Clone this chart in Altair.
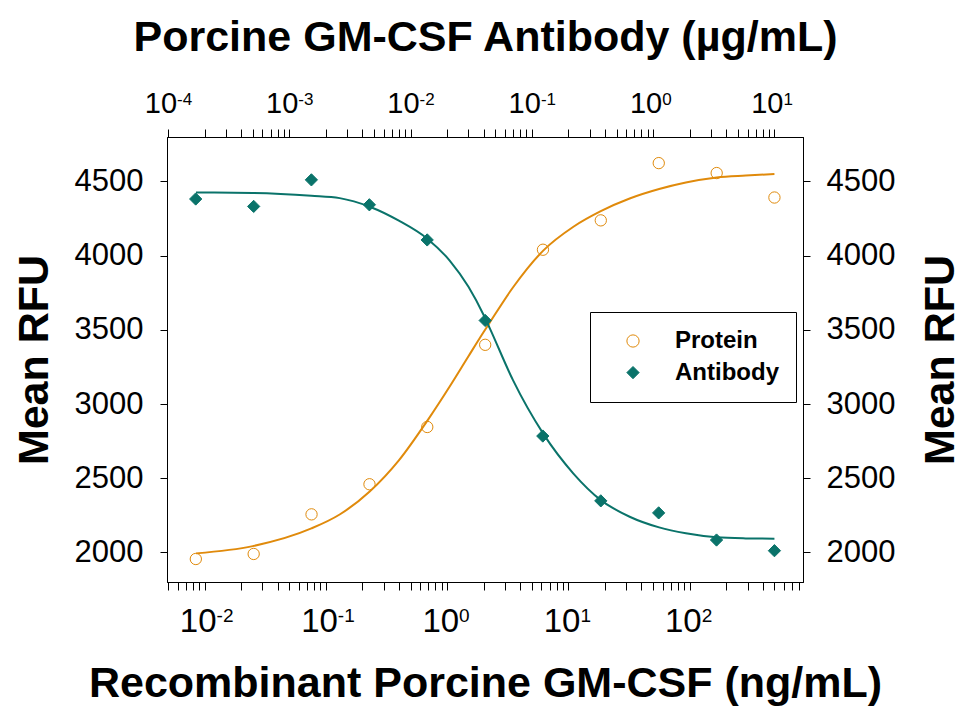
import altair as alt
import pandas as pd

# ---------------- data ----------------
protein_conc = [0.00847, 0.0254, 0.0762, 0.229, 0.686, 2.06, 6.17, 18.5, 55.6, 167, 500]  # ng/mL
protein_rfu = [1955, 1989, 2256, 2459, 2845, 3399, 4040, 4238, 4624, 4557, 4392]

antibody_conc = [0.000169, 0.000508, 0.00152, 0.00457, 0.0137, 0.0412, 0.123, 0.370, 1.11, 3.33, 10]  # ug/mL
antibody_rfu = [4382, 4332, 4511, 4343, 4106, 3563, 2784, 2347, 2266, 2083, 2011]

protein_fit_conc = [0.0085, 0.025, 0.076, 0.13, 0.23, 0.40, 0.69, 1.05, 1.5, 2.0, 2.25,
                    3.5, 6.2, 11, 18.5, 32, 56, 93, 167, 290, 500]
protein_fit_rfu = [1993, 2042, 2161, 2255, 2410, 2620, 2890, 3118, 3322, 3485, 3550,
                   3787, 4034, 4195, 4300, 4385, 4449, 4493, 4527, 4540, 4550]

antibody_fit_conc = [0.00017, 0.0005, 0.00152, 0.0026, 0.0046, 0.008, 0.0138, 0.021, 0.03, 0.04, 0.045,
                     0.07, 0.124, 0.22, 0.37, 0.64, 1.12, 1.86, 3.34, 5.8, 10]
antibody_fit_rfu = [4426, 4423, 4404, 4388, 4330, 4236, 4113, 3967, 3790, 3600, 3510,
                    3159, 2800, 2531, 2352, 2240, 2168, 2128, 2101, 2094, 2092]

bottom_major = [0.01, 0.1, 1, 10, 100]
bottom_exp = ["-2", "-1", "0", "1", "2"]
top_major = [0.0001, 0.001, 0.01, 0.1, 1, 10]
top_exp = ["-4", "-3", "-2", "-1", "0", "1"]
y_ticks = [2000, 2500, 3000, 3500, 4000, 4500]

# ---------------- styling ----------------
FONT = "Liberation Sans, Arial, Helvetica, sans-serif"
ORANGE = "#E08A0B"
TEAL = "#0A736A"
W, H = 636, 445
x_dom_ng = [0.0049, 860]
x_dom_ug = [0.000098, 17.2]
y_dom = [1800, 4800]


def log_ticks(lo, hi, d0, d1):
    vals = []
    for d in range(d0, d1 + 1):
        for m in range(1, 10):
            v = float(f"{m}e{d}")
            if lo <= v <= hi:
                vals.append(v)
    return vals


xs_ng = alt.Scale(type="log", domain=x_dom_ng)
xs_ug = alt.Scale(type="log", domain=x_dom_ug)
ys = alt.Scale(domain=y_dom, nice=False, zero=False)

series_domain = ["Protein", "Antibody"]
stroke_scale = alt.Scale(domain=series_domain, range=[ORANGE, TEAL])
fill_scale = alt.Scale(domain=series_domain, range=["transparent", TEAL])
shape_scale = alt.Scale(domain=series_domain, range=["circle", "diamond"])
leg = alt.Legend(title=None)

prot_pts_df = pd.DataFrame({"conc": protein_conc, "rfu": protein_rfu, "series": "Protein"})
ab_pts_df = pd.DataFrame({"conc": antibody_conc, "rfu": antibody_rfu, "series": "Antibody"})
prot_fit_df = pd.DataFrame({"conc": protein_fit_conc, "rfu": protein_fit_rfu})
ab_fit_df = pd.DataFrame({"conc": antibody_fit_conc, "rfu": antibody_fit_rfu})
bot_lab_df = pd.DataFrame({"v": bottom_major, "e": bottom_exp, "b": "10"})
top_lab_df = pd.DataFrame({"v": top_major, "e": top_exp, "b": "10"})

bottom_axis = alt.Axis(
    orient="bottom", values=log_ticks(x_dom_ng[0], x_dom_ng[1], -3, 3), labels=False,
    tickSize=8, title="Recombinant Porcine GM-CSF (ng/mL)",
    titleX=W / 2, titleY=114, titleBaseline="alphabetic", titleAlign="center",
)
top_axis = alt.Axis(
    orient="top", values=log_ticks(x_dom_ug[0], x_dom_ug[1], -5, 1), labels=False,
    tickSize=8, title="Porcine GM-CSF Antibody (µg/mL)",
    titleX=W / 2, titleY=-87, titleBaseline="alphabetic", titleAlign="center",
)
left_axis = alt.Axis(
    orient="left", values=y_ticks, format="d", tickSize=7, labelPadding=17, title="Mean RFU",
    titleAngle=270, titleX=-120, titleY=H / 2, titleBaseline="alphabetic", titleAlign="center",
)
right_axis = alt.Axis(
    orient="right", values=y_ticks, format="d", tickSize=7, labelPadding=16, title="Mean RFU",
    titleAngle=270, titleX=150, titleY=H / 2, titleBaseline="alphabetic", titleAlign="center",
)

# ---------------- protein (bottom / left axes) ----------------
prot_line = alt.Chart(prot_fit_df).mark_line(color=ORANGE, strokeWidth=2, interpolate="monotone").encode(
    x=alt.X("conc:Q", scale=xs_ng, axis=None),
    y=alt.Y("rfu:Q", scale=ys, axis=None),
)
prot_pts = alt.Chart(prot_pts_df).mark_point(size=128, strokeWidth=1, opacity=1).encode(
    x=alt.X("conc:Q", scale=xs_ng, axis=bottom_axis),
    y=alt.Y("rfu:Q", scale=ys, axis=left_axis),
    stroke=alt.Stroke("series:N", scale=stroke_scale, legend=leg),
    fill=alt.Fill("series:N", scale=fill_scale, legend=leg),
    shape=alt.Shape("series:N", scale=shape_scale, legend=leg),
)
bot_base = alt.Chart(bot_lab_df).encode(x=alt.X("v:Q", scale=xs_ng, axis=None))
bot_ten = bot_base.mark_text(align="right", dx=12, baseline="alphabetic", fontSize=33,
                             font=FONT, color="black").encode(y=alt.value(495.4), text="b:N")
bot_exp = bot_base.mark_text(align="left", dx=12, baseline="alphabetic", fontSize=19,
                             font=FONT, color="black").encode(y=alt.value(485.3), text="e:N")

# ---------------- antibody (top / right axes) ----------------
ab_line = alt.Chart(ab_fit_df).mark_line(color=TEAL, strokeWidth=2, interpolate="monotone").encode(
    x=alt.X("conc:Q", scale=xs_ug, axis=None),
    y=alt.Y("rfu:Q", scale=ys, axis=None),
)
ab_pts = alt.Chart(ab_pts_df).mark_point(size=150, strokeWidth=1, opacity=1).encode(
    x=alt.X("conc:Q", scale=xs_ug, axis=top_axis),
    y=alt.Y("rfu:Q", scale=ys, axis=right_axis),
    stroke=alt.Stroke("series:N", scale=stroke_scale, legend=leg),
    fill=alt.Fill("series:N", scale=fill_scale, legend=leg),
    shape=alt.Shape("series:N", scale=shape_scale, legend=leg),
)
top_base = alt.Chart(top_lab_df).encode(x=alt.X("v:Q", scale=xs_ug, axis=None))
top_ten = top_base.mark_text(align="right", dx=9, baseline="alphabetic", fontSize=29,
                             font=FONT, color="black").encode(y=alt.value(-24), text="b:N")
top_exp_t = top_base.mark_text(align="left", dx=9, baseline="alphabetic", fontSize=17,
                               font=FONT, color="black").encode(y=alt.value(-32), text="e:N")

chart = (
    alt.layer(prot_line, ab_line, prot_pts, ab_pts, bot_ten, bot_exp, top_ten, top_exp_t)
    .resolve_scale(x="independent", y="independent")
    .properties(
        width=W, height=H,
        autosize=alt.AutoSizeParams(type="none"),
        padding={"left": 159, "top": 129, "right": 160, "bottom": 125},
        background="white",
    )
    .configure_view(stroke="black", strokeWidth=1)
    .configure_axis(
        grid=False, domainColor="black", domainWidth=1, tickColor="black", tickWidth=1,
        labelColor="black", labelFont=FONT, labelFontSize=31,
        titleColor="black", titleFont=FONT, titleFontSize=43, titleFontWeight="bold",
    )
    .configure_legend(
        orient="none", legendX=423, legendY=175,
        strokeColor="black", fillColor="white", padding=17, rowPadding=7.6,
        symbolOffset=14, labelOffset=30, symbolSize=150, symbolStrokeWidth=1,
        labelFont=FONT, labelFontSize=24, labelFontWeight="bold", labelColor="black",
    )
)

chart.save("out.html", embed_options={"renderer": "svg", "actions": False})
